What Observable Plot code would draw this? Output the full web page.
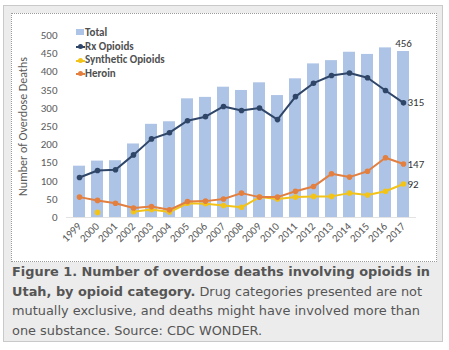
<!DOCTYPE html>
<html>
<head>
<meta charset="utf-8">
<script src="https://cdn.jsdelivr.net/npm/d3@7"></script>
<script src="https://cdn.jsdelivr.net/npm/@observablehq/plot@0.6"></script>
<style>
  html, body { margin: 0; padding: 0; background: #fff; width: 449px; height: 350px; overflow: hidden; }
  #box { position: absolute; left: 3px; top: 5px; width: 440px; height: 337px; background: #ececec; border: 1px solid #c9c9c9; box-sizing: border-box; }
  #inner { position: absolute; left: 11px; top: 13px; width: 426px; height: 249px; background: #fff; border: 1px dotted #9a9a9a; box-sizing: border-box; }
  #chart { position: absolute; left: 11px; top: 13px; }
  #legend { position: absolute; left: 76px; top: 26px; font-family: Carlito, Lato, Roboto, sans-serif; font-size: 11px; font-weight: bold; color: #505050; line-height: 13.7px; }
  #legend .row { display: flex; align-items: center; height: 13.7px; }
  #legend .sym { position: relative; width: 8px; height: 7px; margin-right: 1px; }
  #legend .sq { width: 8px; height: 6px; background: #aec4e6; }
  #legend .ln { position: absolute; left: 0; top: 3px; width: 9px; height: 2px; }
  #legend .dt { position: absolute; left: 2px; top: 1px; width: 5px; height: 5px; border-radius: 50%; }
  #caption { position: absolute; left: 12px; top: 262px; width: 432px; font-family: Verdana, "DejaVu Sans", sans-serif; font-size: 12.9px; line-height: 19.6px; color: #555; white-space: nowrap; }
  #caption b { color: #555; }
</style>
</head>
<body>
<div id="box"></div>
<div id="inner"></div>
<div id="chart"></div>
<div id="legend"></div>
<div id="caption"><b>Figure 1. Number of overdose deaths involving opioids in<br>Utah, by opioid category.</b> Drug categories presented are not<br>mutually exclusive, and deaths might have involved more than<br>one substance. Source: CDC WONDER.</div>
<script>
const years = ["1999","2000","2001","2002","2003","2004","2005","2006","2007","2008","2009","2010","2011","2012","2013","2014","2015","2016","2017"];
const total = [141,155,156,202,256,263,326,330,358,349,370,335,381,422,431,454,448,466,456];
const rx = [110,129,131,172,216,233,266,277,305,294,301,269,332,369,390,397,384,349,315];
const synthetic = [null,14,null,16,22,15,39,38,33,28,56,51,56,58,58,67,62,72,92];
const heroin = [56,47,39,26,30,21,44,45,51,67,56,56,72,85,120,111,127,164,147];
const seriesNames = ["Total","Rx Opioids","Synthetic Opioids","Heroin"];
const seriesColors = ["#aec4e6","#2f4668","#f2c318","#e37f3f"];
const yLabel = "Number of Overdose Deaths";

const rows = years.map((y, i) => ({year: y, total: total[i], rx: rx[i], synthetic: synthetic[i], heroin: heroin[i]}));
const last = rows[rows.length - 1];

function lineMarks(key, color) {
  const pts = rows.filter(d => d[key] != null);
  return [
    Plot.line(rows, {x: "year", y: d => d[key] == null ? NaN : d[key], stroke: color, strokeWidth: 2, curve: "linear"}),
    Plot.dot(pts, {x: "year", y: key, fill: color, r: 2.8, stroke: "none"})
  ];
}

const chart = Plot.plot({
  width: 425,
  height: 248,
  marginLeft: 55,
  marginRight: 20,
  marginTop: 22,
  marginBottom: 44,
  style: {fontFamily: "Carlito, Lato, Roboto, sans-serif", fontSize: "11px", color: "#595959", background: "transparent"},
  x: {type: "band", domain: years, padding: 0.36, tickSize: 0, tickRotate: -45, tickPadding: 7, label: null},
  y: {domain: [0, 500], ticks: d3.range(0, 501, 50), tickSize: 0, tickPadding: 9, label: null},
  marks: [
    Plot.barY(rows, {x: "year", y: "total", fill: seriesColors[0]}),
    Plot.ruleY([0], {stroke: "#e3e3e3"}),
    ...lineMarks("synthetic", seriesColors[2]),
    ...lineMarks("heroin", seriesColors[3]),
    ...lineMarks("rx", seriesColors[1]),
    Plot.text([yLabel], {text: d => d, frameAnchor: "left", textAnchor: "middle", rotate: -90, dx: -43, fill: "#595959", fontSize: 12}),
    Plot.text([last], {x: "year", y: "total", text: d => String(d.total), dy: -8, fill: "#333", fontSize: 11}),
    Plot.text([last], {x: "year", y: "rx", text: d => String(d.rx), dx: 4, textAnchor: "start", fill: "#333", fontSize: 11}),
    Plot.text([last], {x: "year", y: "heroin", text: d => String(d.heroin), dx: 4, textAnchor: "start", fill: "#333", fontSize: 11}),
    Plot.text([last], {x: "year", y: "synthetic", text: d => String(d.synthetic), dx: 4, textAnchor: "start", fill: "#333", fontSize: 11})
  ]
});
document.getElementById("chart").appendChild(chart);

const legend = document.getElementById("legend");
seriesNames.forEach((name, i) => {
  const row = document.createElement("div");
  row.className = "row";
  const sym = document.createElement("div");
  sym.className = "sym";
  if (i === 0) {
    const sq = document.createElement("div");
    sq.className = "sq";
    sq.style.background = seriesColors[i];
    sym.appendChild(sq);
  } else {
    const ln = document.createElement("div");
    ln.className = "ln";
    ln.style.background = seriesColors[i];
    const dt = document.createElement("div");
    dt.className = "dt";
    dt.style.background = seriesColors[i];
    sym.appendChild(ln);
    sym.appendChild(dt);
  }
  row.appendChild(sym);
  const t = document.createElement("span");
  t.textContent = name;
  row.appendChild(t);
  legend.appendChild(row);
});
</script>
</body>
</html>
